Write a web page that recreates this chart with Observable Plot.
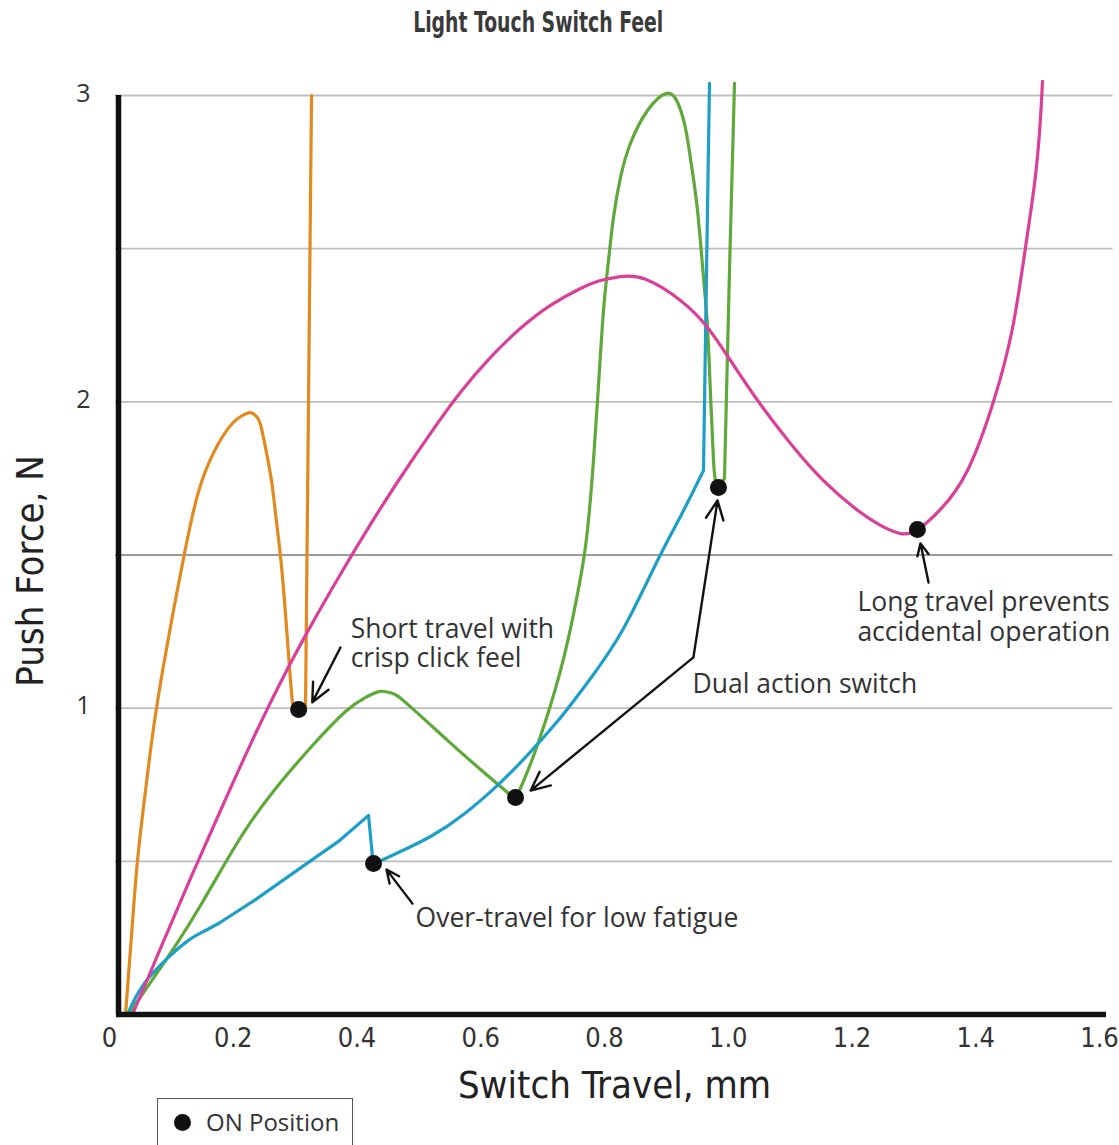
<!DOCTYPE html>
<html>
<head>
<meta charset="utf-8">
<script src="https://cdn.jsdelivr.net/npm/d3@7"></script>
<script src="https://cdn.jsdelivr.net/npm/@observablehq/plot@0.6"></script>
<style>
  html, body { margin: 0; padding: 0; background: #fff; }
  #wrap { position: relative; width: 1119px; height: 1145px; overflow: hidden; }
  #title { height: 45px; line-height: 45px; width: 1119px; position: relative;
           font-family: "DejaVu Sans Condensed", "DejaVu Sans", sans-serif; font-stretch: condensed;
           font-weight: bold; font-size: 29px; color: #3a3a3a; }
  #title span { position: absolute; white-space: nowrap; transform-origin: center center; }
  #chart svg { display: block; }
  #legend { position: absolute; left: 157px; top: 1098px; width: 196px; height: 60px;
            border: 1.5px solid #555; box-sizing: border-box; }
  #legend .dot { position: absolute; left: 16px; top: 15px; width: 17px; height: 17px; border-radius: 50%; background: #111; }
  #legend .lbl { position: absolute; left: 48px; top: 7px; font-family: "Open Sans", sans-serif; font-size: 24px; line-height: 32px; color: #333; white-space: nowrap; }
</style>
</head>
<body>
<div id="wrap">
  <div id="title"><span id="titleText">Light Touch Switch Feel</span></div>
  <div id="chart"></div>
  <div id="legend"><div class="dot"></div><div class="lbl">ON Position</div></div>
</div>
<script>
// ---- data ----
const xTicks = [0, 0.2, 0.4, 0.6, 0.8, 1.0, 1.2, 1.4, 1.6];
const xTickLabels = ["0", "0.2", "0.4", "0.6", "0.8", "1.0", "1.2", "1.4", "1.6"];
const yTicks = [1, 2, 3];
const yTickLabels = ["1", "2", "3"];
const gridY = [0.5, 1, 1.5, 2, 2.5, 3];

// curve pieces, [travel mm, force N]
const orangeRise = [
  [0.0162, 0], [0.0259, 0.258], [0.0356, 0.503], [0.0485, 0.731], [0.0614, 0.934], [0.0776, 1.139],
  [0.0937, 1.319], [0.1099, 1.489], [0.1244, 1.629], [0.1406, 1.747], [0.1648, 1.858], [0.1891, 1.930],
  [0.2053, 1.956], [0.2182, 1.965], [0.2279, 1.952], [0.2343, 1.926], [0.2424, 1.851], [0.2521, 1.743],
  [0.2586, 1.636], [0.2667, 1.495], [0.2747, 1.309], [0.2828, 1.090], [0.2877, 0.986]
];
const orangeClick = [[0.2877, 0.986], [0.2974, 0.979], [0.3071, 1.006], [0.3168, 3.0]];

const magentaCurve = [
  [0.0275, 0], [0.0727, 0.216], [0.1212, 0.444], [0.1697, 0.666], [0.2182, 0.882], [0.2667, 1.084],
  [0.3152, 1.267], [0.3636, 1.437], [0.4121, 1.600], [0.4606, 1.753], [0.5091, 1.897], [0.5576, 2.031],
  [0.6061, 2.145], [0.6545, 2.240], [0.7030, 2.315], [0.7515, 2.370], [0.7838, 2.396], [0.8162, 2.409],
  [0.8566, 2.400], [0.9131, 2.331], [0.9568, 2.243], [0.9939, 2.135], [1.0376, 2.005], [1.0909, 1.864],
  [1.1442, 1.743], [1.1992, 1.646], [1.2364, 1.597], [1.2687, 1.570], [1.2962, 1.583], [1.3333, 1.649],
  [1.3770, 1.776], [1.4190, 2.001], [1.4497, 2.240], [1.4707, 2.504], [1.4869, 2.739], [1.4949, 2.925],
  [1.4982, 3.046]
];

const greenFirst = [
  [0.0210, 0], [0.0566, 0.105], [0.0970, 0.225], [0.1374, 0.356], [0.1778, 0.496], [0.2182, 0.627],
  [0.2667, 0.757], [0.3184, 0.878], [0.3717, 0.989], [0.4040, 1.035], [0.4283, 1.055], [0.4477, 1.048],
  [0.4687, 1.019], [0.5366, 0.895], [0.5899, 0.800], [0.6465, 0.702]
];
const greenSecond = [
  [0.6465, 0.702], [0.6626, 0.777], [0.6788, 0.862], [0.6949, 0.957], [0.7111, 1.064], [0.7273, 1.188],
  [0.7434, 1.339], [0.7563, 1.482], [0.7644, 1.613], [0.7725, 1.809], [0.7806, 2.054], [0.7887, 2.298],
  [0.7968, 2.462], [0.8048, 2.602], [0.8162, 2.733], [0.8323, 2.844], [0.8598, 2.951], [0.8905, 3.007],
  [0.9083, 2.978], [0.9212, 2.893], [0.9309, 2.772], [0.9406, 2.625], [0.9503, 2.406], [0.9568, 2.243],
  [0.9616, 2.027], [0.9665, 1.809], [0.9697, 1.743], [0.9745, 1.717]
];
const greenThird = [[0.9745, 1.717], [0.9842, 1.750], [0.9923, 2.429], [1.0004, 3.040]];

const blueStart = [
  [0.0194, 0], [0.0275, 0.036], [0.0372, 0.072], [0.0501, 0.111], [0.0646, 0.144], [0.0889, 0.193],
  [0.1180, 0.242], [0.1422, 0.271], [0.1665, 0.297]
];
const blueSnap = [
  [0.1665, 0.297], [0.2263, 0.375], [0.3071, 0.490], [0.3604, 0.565], [0.4089, 0.650], [0.4154, 0.513],
  [0.4186, 0.493]
];
const blueRamp = [
  [0.4186, 0.493], [0.4364, 0.509], [0.4606, 0.532], [0.5091, 0.581], [0.5624, 0.653], [0.6174, 0.748],
  [0.6594, 0.833], [0.7143, 0.957], [0.7677, 1.097], [0.8210, 1.260], [0.8760, 1.482], [0.9131, 1.626],
  [0.9503, 1.776]
];
const blueStop = [[0.9503, 1.776], [0.9552, 2.429], [0.9600, 3.040]];

// ON positions
const onX = [0.296, 0.417, 0.6465, 0.9745, 1.296];
const onY = [0.996, 0.493, 0.7085, 1.72, 1.583];

// annotations
const noteText = ["Short travel with\ncrisp click feel", "Over-travel for low fatigue", "Dual action switch", "Long travel prevents\naccidental operation"];
const noteX = [0.380, 0.485, 0.9325, 1.199];
const noteY = [1.213, 0.317, 1.081, 1.299];

// arrows: tail (x1,y1) -> head (x2,y2)
const arrowX1 = [0.3636, 0.480, 0.934, 0.934, 1.314];
const arrowY1 = [1.198, 0.362, 1.166, 1.166, 1.410];
const arrowX2 = [0.318, 0.438, 0.671, 0.973, 1.301];
const arrowY2 = [1.019, 0.473, 0.731, 1.678, 1.538];

// ---- drawing ----
const condensed = "'DejaVu Sans Condensed', 'DejaVu Sans', sans-serif";
const colors = {orange: "#e08a1f", green: "#5fa83a", blue: "#1e9fc6", magenta: "#d8409a"};
const pieces = [
  {data: orangeRise, color: colors.orange, curve: "natural"},
  {data: orangeClick, color: colors.orange, curve: "linear"},
  {data: greenFirst, color: colors.green, curve: "natural"},
  {data: greenSecond, color: colors.green, curve: "natural"},
  {data: greenThird, color: colors.green, curve: "linear"},
  {data: blueStart, color: colors.blue, curve: "natural"},
  {data: blueSnap, color: colors.blue, curve: "linear"},
  {data: blueRamp, color: colors.blue, curve: "natural"},
  {data: blueStop, color: colors.blue, curve: "linear"},
  {data: magentaCurve, color: colors.magenta, curve: "natural"}
];
const lineMarks = pieces.map(p => Plot.line(p.data, {
  x: d => d[0], y: d => d[1], stroke: p.color, strokeWidth: 3.2, curve: p.curve,
  strokeLinejoin: "round", strokeLinecap: "round"
}));

const chart = Plot.plot({
  width: 1119,
  height: 1050,
  marginLeft: 115,
  marginRight: 14,
  marginTop: 50,
  marginBottom: 81,
  x: {domain: [0, 1.6]},
  y: {domain: [0, 3]},
  style: {fontFamily: "'Open Sans', sans-serif", color: "#333", background: "#fff", overflow: "visible"},
  marks: [
    Plot.ruleY(gridY, {x1: 0, x2: 1.612, stroke: d => d === 1.5 ? "#9a9a9a" : "#bdbdbd", strokeWidth: 1.8}),
    Plot.axisX({ticks: xTicks, tickFormat: d => xTickLabels[xTicks.indexOf(d)], tickSize: 0, tickPadding: 13,
                fontSize: 27, fontFamily: condensed, label: null, fill: "#333", dx: -6}),
    Plot.axisY({ticks: yTicks, tickFormat: d => yTickLabels[yTicks.indexOf(d)], tickSize: 0, tickPadding: 25,
                fontSize: 25, label: null, fill: "#333", dy: -2}),
    Plot.text(["Switch Travel, mm"], {frameAnchor: "bottom", dy: 71, lineAnchor: "middle", fontSize: 38,
                fontFamily: condensed, fill: "#222", dx: 4}),
    Plot.text(["Push Force, N"], {frameAnchor: "left", textAnchor: "middle", rotate: -90, dx: -85, dy: 16,
                lineAnchor: "middle", fontSize: 38, fontFamily: condensed, fill: "#222"}),
    ...lineMarks,
    Plot.ruleX([0], {y1: 0, y2: 3, stroke: "#111", strokeWidth: 5.5, dx: 3}),
    Plot.ruleY([0], {x1: 0, x2: 1.6, stroke: "#111", strokeWidth: 5.5, dx: 1}),
    Plot.arrow(arrowX1, {x1: d => d, y1: (d, i) => arrowY1[i], x2: (d, i) => arrowX2[i], y2: (d, i) => arrowY2[i],
                stroke: "#111", strokeWidth: 2.4, headLength: 13, headAngle: 50}),
    Plot.dot(onX, {x: d => d, y: (d, i) => onY[i], r: 8.5, fill: "#111", stroke: "none"}),
    Plot.text(noteText, {x: (d, i) => noteX[i], y: (d, i) => noteY[i], text: d => d, textAnchor: "start",
                lineAnchor: "middle", lineHeight: 1.12, fontSize: 26.5, fill: "#333"})
  ]
});
document.getElementById("chart").appendChild(chart);

// fit the condensed title to the reference width
const t = document.getElementById("titleText");
const w = t.getBoundingClientRect().width;
const s = 250 / w;
const cx = 538;
t.style.left = (cx - w / 2) + "px";
t.style.transform = `scaleX(${s})`;
</script>
</body>
</html>
